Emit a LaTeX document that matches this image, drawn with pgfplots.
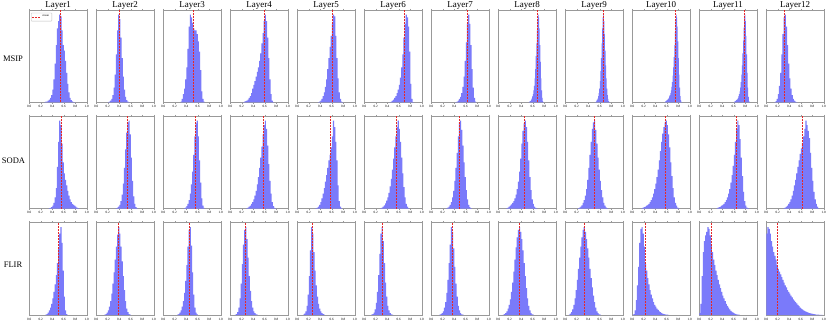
\documentclass[border=0pt]{standalone}
\usepackage{fontspec}
\setmainfont{Liberation Serif}
\usepackage{pgfplots}
\pgfplotsset{compat=1.18}
\definecolor{histblue}{RGB}{122,122,250}
\definecolor{meanred}{RGB}{230,40,40}
\pgfplotsset{
  every axis title shift=0pt,
  hp/.style={scale only axis, width=57.5pt, height=92.5pt, anchor=north west,
    xmin=0, xmax=1, ymin=0, ymax=1,
    xtick={0,0.2,0.4,0.6,0.8,1}, ytick=\empty,
    axis line style={black!40, line width=0.6pt},
    tick style={black!40, line width=0.4pt}, tick align=outside,
    major tick length=1.2pt,
    xticklabel style={font=\fontsize{3.3}{4}\selectfont, inner sep=1.5pt},
    /pgf/number format/fixed, /pgf/number format/fixed zerofill,
    /pgf/number format/precision=1, /pgf/number format/assume math mode=true,
    title style={font=\fontsize{9}{10}\selectfont, at={(0.5,1)},
                 anchor=base, yshift=2.6pt, inner sep=0pt},
  },
  hist/.style={const plot, fill=histblue, draw=none, forget plot},
  meanline/.style={draw=meanred, color=meanred, line width=0.9pt,
                   dash pattern=on 2pt off 1pt},
}
% #1 column, #2 top of row (pt), #3 title, #4 mean, #5 bins
\newcommand{\panel}[5]{%
  \begin{axis}[hp, at={({(29.3+67*#1)*1pt},{-(#2)*1pt})}, title={#3}]
    \addplot[hist] coordinates {#5} \closedcycle;
    \addplot[meanline] coordinates {(#4,0) (#4,1)};
  \end{axis}}

\begin{document}
\begin{tikzpicture}
\useasboundingbox (0,0) rectangle (830pt,-323pt);

% ---------------- MSIP ----------------
\begin{axis}[hp, at={(29.3pt,-10pt)}, title={Layer1},
  legend style={at={(0.03,0.97)}, anchor=north west,
    font=\fontsize{3}{3.5}\selectfont, draw=black!25, rounded corners=0.5pt,
    inner sep=0.6pt, legend cell align=left},
  legend image code/.code={\draw[#1] (0pt,0pt) -- (8pt,0pt);}]
  \addplot[hist] coordinates {(0.26,0.005)(0.28,0.01)(0.30,0.01)(0.32,0.02)(0.34,0.03)(0.36,0.05)(0.38,0.08)(0.40,0.14)(0.42,0.25)(0.44,0.42)(0.46,0.62)(0.48,0.80)(0.50,0.88)(0.52,0.95)(0.54,0.93)(0.56,0.78)(0.58,0.62)(0.60,0.56)(0.62,0.45)(0.64,0.32)(0.66,0.20)(0.68,0.11)(0.70,0.05)(0.72,0.025)(0.74,0.012)(0.76,0.005)(0.78,0.003)(0.80,0)} \closedcycle;
  \addplot[meanline] coordinates {(0.54,0) (0.54,1)};
  \addlegendentry{mean}
\end{axis}
\panel{1}{10}{Layer2}{0.40}{(0.20,0.005)(0.22,0.01)(0.24,0.02)(0.26,0.04)(0.28,0.08)(0.30,0.16)(0.32,0.30)(0.34,0.52)(0.36,0.78)(0.38,0.95)(0.40,0.90)(0.42,0.70)(0.44,0.48)(0.46,0.28)(0.48,0.14)(0.50,0.06)(0.52,0.025)(0.54,0.01)(0.56,0.004)(0.58,0)}
\panel{2}{10}{Layer3}{0.52}{(0.30,0.01)(0.32,0.04)(0.34,0.09)(0.36,0.15)(0.38,0.25)(0.40,0.38)(0.42,0.58)(0.44,0.82)(0.46,0.95)(0.48,0.92)(0.50,0.86)(0.52,0.80)(0.54,0.78)(0.56,0.78)(0.58,0.74)(0.60,0.66)(0.62,0.55)(0.64,0.35)(0.66,0.12)(0.68,0.04)(0.70,0.01)(0.72,0)}
\panel{3}{10}{Layer4}{0.59}{(0.22,0.005)(0.24,0.01)(0.26,0.015)(0.28,0.02)(0.30,0.03)(0.32,0.05)(0.34,0.07)(0.36,0.10)(0.38,0.15)(0.40,0.19)(0.42,0.23)(0.44,0.28)(0.46,0.33)(0.48,0.38)(0.50,0.45)(0.52,0.53)(0.54,0.64)(0.56,0.75)(0.58,0.88)(0.60,0.95)(0.62,0.88)(0.64,0.70)(0.66,0.48)(0.68,0.25)(0.70,0.09)(0.72,0.02)(0.74,0.005)(0.76,0)}
\panel{4}{10}{Layer5}{0.61}{(0.36,0.005)(0.38,0.01)(0.40,0.02)(0.42,0.04)(0.44,0.07)(0.46,0.11)(0.48,0.17)(0.50,0.25)(0.52,0.36)(0.54,0.48)(0.56,0.60)(0.58,0.72)(0.60,0.85)(0.62,0.95)(0.64,0.93)(0.66,0.72)(0.68,0.48)(0.70,0.26)(0.72,0.11)(0.74,0.04)(0.76,0.01)(0.78,0.003)(0.80,0)}
\panel{5}{10}{Layer6}{0.70}{(0.44,0.005)(0.46,0.01)(0.48,0.02)(0.50,0.03)(0.52,0.05)(0.54,0.07)(0.56,0.10)(0.58,0.14)(0.60,0.19)(0.62,0.27)(0.64,0.38)(0.66,0.52)(0.68,0.70)(0.70,0.85)(0.72,0.95)(0.74,0.92)(0.76,0.82)(0.78,0.55)(0.80,0.20)(0.82,0.04)(0.84,0.005)(0.86,0)}
\panel{6}{10}{Layer7}{0.63}{(0.42,0.005)(0.44,0.01)(0.46,0.02)(0.48,0.04)(0.50,0.06)(0.52,0.10)(0.54,0.17)(0.56,0.28)(0.58,0.45)(0.60,0.65)(0.62,0.85)(0.64,0.95)(0.66,0.85)(0.68,0.62)(0.70,0.36)(0.72,0.16)(0.74,0.05)(0.76,0.01)(0.78,0)}
\panel{7}{10}{Layer8}{0.68}{(0.53,0.005)(0.54,0.01)(0.55,0.015)(0.56,0.02)(0.57,0.03)(0.58,0.045)(0.59,0.065)(0.60,0.09)(0.61,0.13)(0.62,0.18)(0.63,0.26)(0.64,0.36)(0.65,0.50)(0.66,0.64)(0.67,0.78)(0.68,0.90)(0.69,0.95)(0.70,0.92)(0.71,0.80)(0.72,0.62)(0.73,0.44)(0.74,0.26)(0.75,0.13)(0.76,0.05)(0.77,0.015)(0.78,0.004)(0.79,0)}
\panel{8}{10}{Layer9}{0.66}{(0.52,0.005)(0.53,0.01)(0.54,0.02)(0.55,0.03)(0.56,0.045)(0.57,0.07)(0.58,0.10)(0.59,0.15)(0.60,0.23)(0.61,0.34)(0.62,0.48)(0.63,0.64)(0.64,0.80)(0.65,0.92)(0.66,0.95)(0.67,0.88)(0.68,0.74)(0.69,0.56)(0.70,0.40)(0.71,0.26)(0.72,0.15)(0.73,0.08)(0.74,0.04)(0.75,0.015)(0.76,0.005)(0.77,0.002)(0.78,0)}
\panel{9}{10}{Layer10}{0.75}{(0.56,0.005)(0.57,0.01)(0.58,0.015)(0.59,0.02)(0.60,0.025)(0.61,0.03)(0.62,0.04)(0.63,0.05)(0.64,0.065)(0.65,0.08)(0.66,0.10)(0.67,0.13)(0.68,0.17)(0.69,0.22)(0.70,0.29)(0.71,0.38)(0.72,0.49)(0.73,0.62)(0.74,0.76)(0.75,0.88)(0.76,0.95)(0.77,0.92)(0.78,0.82)(0.79,0.66)(0.80,0.48)(0.81,0.30)(0.82,0.16)(0.83,0.07)(0.84,0.025)(0.85,0.007)(0.86,0)}
\panel{10}{10}{Layer11}{0.78}{(0.60,0.005)(0.61,0.01)(0.62,0.015)(0.63,0.02)(0.64,0.025)(0.65,0.03)(0.66,0.04)(0.67,0.05)(0.68,0.07)(0.69,0.09)(0.70,0.12)(0.71,0.16)(0.72,0.22)(0.73,0.30)(0.74,0.40)(0.75,0.53)(0.76,0.67)(0.77,0.81)(0.78,0.92)(0.79,0.95)(0.80,0.88)(0.81,0.72)(0.82,0.52)(0.83,0.32)(0.84,0.16)(0.85,0.06)(0.86,0.015)(0.87,0.003)(0.88,0)}
\panel{11}{10}{Layer12}{0.32}{(0.14,0.005)(0.16,0.015)(0.18,0.04)(0.20,0.09)(0.22,0.18)(0.24,0.32)(0.26,0.52)(0.28,0.74)(0.30,0.92)(0.32,0.95)(0.34,0.82)(0.36,0.62)(0.38,0.42)(0.40,0.26)(0.42,0.15)(0.44,0.08)(0.46,0.04)(0.48,0.02)(0.50,0.01)(0.52,0.004)(0.54,0)}

% ---------------- SODA ----------------
\panel{0}{116}{}{0.56}{(0.34,0.003)(0.36,0.008)(0.38,0.015)(0.40,0.03)(0.42,0.06)(0.44,0.12)(0.46,0.22)(0.48,0.45)(0.50,0.72)(0.52,0.95)(0.54,0.90)(0.56,0.70)(0.58,0.50)(0.60,0.38)(0.62,0.31)(0.64,0.25)(0.66,0.19)(0.68,0.14)(0.70,0.10)(0.72,0.07)(0.74,0.05)(0.76,0.04)(0.78,0.03)(0.80,0.02)(0.82,0.01)(0.84,0.004)(0.86,0)}
\panel{1}{116}{}{0.54}{(0.34,0.005)(0.36,0.01)(0.38,0.02)(0.40,0.04)(0.42,0.08)(0.44,0.15)(0.46,0.27)(0.48,0.44)(0.50,0.64)(0.52,0.82)(0.54,0.93)(0.56,0.95)(0.58,0.80)(0.60,0.55)(0.62,0.30)(0.64,0.13)(0.66,0.05)(0.68,0.015)(0.70,0.005)(0.72,0)}
\panel{2}{116}{}{0.555}{(0.36,0.005)(0.38,0.01)(0.40,0.025)(0.42,0.05)(0.44,0.09)(0.46,0.16)(0.48,0.26)(0.50,0.40)(0.52,0.58)(0.54,0.78)(0.56,0.92)(0.58,0.95)(0.60,0.78)(0.62,0.52)(0.64,0.28)(0.66,0.11)(0.68,0.03)(0.70,0.008)(0.72,0)}
\panel{3}{116}{}{0.57}{(0.28,0.005)(0.30,0.01)(0.32,0.02)(0.34,0.03)(0.36,0.05)(0.38,0.07)(0.40,0.10)(0.42,0.14)(0.44,0.19)(0.46,0.26)(0.48,0.34)(0.50,0.44)(0.52,0.55)(0.54,0.67)(0.56,0.80)(0.58,0.90)(0.60,0.95)(0.62,0.86)(0.64,0.68)(0.66,0.48)(0.68,0.30)(0.70,0.16)(0.72,0.07)(0.74,0.025)(0.76,0.008)(0.78,0.002)(0.80,0)}
\panel{4}{116}{}{0.58}{(0.32,0.005)(0.34,0.01)(0.36,0.02)(0.38,0.04)(0.40,0.07)(0.42,0.11)(0.44,0.16)(0.46,0.22)(0.48,0.29)(0.50,0.36)(0.52,0.44)(0.54,0.52)(0.56,0.58)(0.58,0.66)(0.60,0.78)(0.62,0.95)(0.64,0.88)(0.66,0.72)(0.68,0.52)(0.70,0.25)(0.72,0.08)(0.74,0.02)(0.76,0.005)(0.78,0)}
\panel{5}{116}{}{0.555}{(0.28,0.005)(0.30,0.01)(0.32,0.02)(0.34,0.035)(0.36,0.055)(0.38,0.085)(0.40,0.12)(0.42,0.17)(0.44,0.24)(0.46,0.32)(0.48,0.42)(0.50,0.54)(0.52,0.66)(0.54,0.78)(0.56,0.88)(0.58,0.95)(0.60,0.86)(0.62,0.72)(0.64,0.55)(0.66,0.38)(0.68,0.23)(0.70,0.12)(0.72,0.05)(0.74,0.02)(0.76,0.005)(0.78,0)}
\panel{6}{116}{}{0.49}{(0.26,0.005)(0.28,0.01)(0.30,0.02)(0.32,0.04)(0.34,0.07)(0.36,0.12)(0.38,0.19)(0.40,0.30)(0.42,0.44)(0.44,0.60)(0.46,0.78)(0.48,0.93)(0.50,0.95)(0.52,0.85)(0.54,0.68)(0.56,0.50)(0.58,0.34)(0.60,0.20)(0.62,0.10)(0.64,0.04)(0.66,0.015)(0.68,0.005)(0.70,0)}
\panel{7}{116}{}{0.45}{(0.14,0.005)(0.16,0.01)(0.18,0.02)(0.20,0.03)(0.22,0.045)(0.24,0.06)(0.26,0.08)(0.28,0.11)(0.30,0.15)(0.32,0.21)(0.34,0.29)(0.36,0.40)(0.38,0.54)(0.40,0.70)(0.42,0.84)(0.44,0.92)(0.46,0.95)(0.48,0.88)(0.50,0.72)(0.52,0.52)(0.54,0.34)(0.56,0.20)(0.58,0.10)(0.60,0.05)(0.62,0.02)(0.64,0.008)(0.66,0.003)(0.68,0)}
\panel{8}{116}{}{0.50}{(0.22,0.005)(0.24,0.01)(0.26,0.02)(0.28,0.035)(0.30,0.06)(0.32,0.09)(0.34,0.14)(0.36,0.21)(0.38,0.31)(0.40,0.44)(0.42,0.58)(0.44,0.72)(0.46,0.86)(0.48,0.93)(0.50,0.95)(0.52,0.85)(0.54,0.70)(0.56,0.55)(0.58,0.42)(0.60,0.30)(0.62,0.20)(0.64,0.12)(0.66,0.06)(0.68,0.03)(0.70,0.012)(0.72,0.005)(0.74,0)}
\panel{9}{116}{}{0.57}{(0.16,0.005)(0.18,0.01)(0.20,0.015)(0.22,0.02)(0.24,0.03)(0.26,0.04)(0.28,0.05)(0.30,0.07)(0.32,0.09)(0.34,0.12)(0.36,0.16)(0.38,0.21)(0.40,0.27)(0.42,0.34)(0.44,0.42)(0.46,0.52)(0.48,0.62)(0.50,0.72)(0.52,0.81)(0.54,0.88)(0.56,0.93)(0.58,0.95)(0.60,0.90)(0.62,0.80)(0.64,0.66)(0.66,0.50)(0.68,0.35)(0.70,0.22)(0.72,0.12)(0.74,0.06)(0.76,0.03)(0.78,0.01)(0.80,0.004)(0.82,0)}
\panel{10}{116}{}{0.64}{(0.30,0.005)(0.32,0.01)(0.34,0.015)(0.36,0.02)(0.38,0.03)(0.40,0.04)(0.42,0.05)(0.44,0.07)(0.46,0.09)(0.48,0.12)(0.50,0.16)(0.52,0.21)(0.54,0.28)(0.56,0.36)(0.58,0.46)(0.60,0.58)(0.62,0.72)(0.64,0.86)(0.66,0.95)(0.68,0.90)(0.70,0.75)(0.72,0.55)(0.74,0.35)(0.76,0.18)(0.78,0.08)(0.80,0.03)(0.82,0.01)(0.84,0.003)(0.86,0)}
\panel{11}{116}{}{0.63}{(0.30,0.005)(0.32,0.01)(0.34,0.02)(0.36,0.03)(0.38,0.05)(0.40,0.07)(0.42,0.10)(0.44,0.14)(0.46,0.19)(0.48,0.25)(0.50,0.31)(0.52,0.38)(0.54,0.45)(0.56,0.52)(0.58,0.59)(0.60,0.65)(0.62,0.71)(0.64,0.78)(0.66,0.86)(0.68,0.95)(0.70,0.90)(0.72,0.84)(0.74,0.76)(0.76,0.60)(0.78,0.44)(0.80,0.30)(0.82,0.18)(0.84,0.10)(0.86,0.05)(0.88,0.02)(0.90,0.005)(0.92,0)}

% ---------------- FLIR ----------------
\panel{0}{222.5}{}{0.51}{(0.28,0.005)(0.30,0.01)(0.32,0.025)(0.34,0.05)(0.36,0.08)(0.38,0.12)(0.40,0.18)(0.42,0.25)(0.44,0.33)(0.46,0.43)(0.48,0.56)(0.50,0.72)(0.52,0.88)(0.54,0.95)(0.56,0.78)(0.58,0.48)(0.60,0.20)(0.62,0.05)(0.64,0.01)(0.66,0)}
\panel{1}{222.5}{}{0.38}{(0.14,0.005)(0.16,0.01)(0.18,0.025)(0.20,0.05)(0.22,0.09)(0.24,0.15)(0.26,0.23)(0.28,0.34)(0.30,0.46)(0.32,0.60)(0.34,0.74)(0.36,0.87)(0.38,0.95)(0.40,0.88)(0.42,0.74)(0.44,0.58)(0.46,0.42)(0.48,0.27)(0.50,0.15)(0.52,0.07)(0.54,0.03)(0.56,0.01)(0.58,0.004)(0.60,0)}
\panel{2}{222.5}{}{0.45}{(0.24,0.005)(0.26,0.01)(0.28,0.025)(0.30,0.05)(0.32,0.09)(0.34,0.15)(0.36,0.24)(0.38,0.37)(0.40,0.54)(0.42,0.74)(0.44,0.92)(0.46,0.95)(0.48,0.75)(0.50,0.46)(0.52,0.22)(0.54,0.08)(0.56,0.025)(0.58,0.008)(0.60,0)}
\panel{3}{222.5}{}{0.26}{(0.08,0.005)(0.10,0.01)(0.12,0.03)(0.14,0.08)(0.16,0.18)(0.18,0.34)(0.20,0.55)(0.22,0.76)(0.24,0.92)(0.26,0.95)(0.28,0.82)(0.30,0.62)(0.32,0.42)(0.34,0.26)(0.36,0.15)(0.38,0.08)(0.40,0.04)(0.42,0.02)(0.44,0.008)(0.46,0.003)(0.48,0)}
\panel{4}{222.5}{}{0.26}{(0.10,0.005)(0.12,0.015)(0.14,0.04)(0.16,0.10)(0.18,0.22)(0.20,0.42)(0.22,0.70)(0.24,0.95)(0.26,0.88)(0.28,0.68)(0.30,0.48)(0.32,0.32)(0.34,0.20)(0.36,0.12)(0.38,0.07)(0.40,0.04)(0.42,0.02)(0.44,0.01)(0.46,0.004)(0.48,0)}
\panel{5}{222.5}{}{0.31}{(0.12,0.005)(0.14,0.01)(0.16,0.025)(0.18,0.06)(0.20,0.13)(0.22,0.25)(0.24,0.43)(0.26,0.66)(0.28,0.88)(0.30,0.95)(0.32,0.80)(0.34,0.56)(0.36,0.35)(0.38,0.20)(0.40,0.10)(0.42,0.05)(0.44,0.02)(0.46,0.008)(0.48,0.003)(0.50,0)}
\panel{6}{222.5}{}{0.36}{(0.14,0.005)(0.16,0.01)(0.18,0.02)(0.20,0.04)(0.22,0.08)(0.24,0.14)(0.26,0.24)(0.28,0.38)(0.30,0.56)(0.32,0.76)(0.34,0.95)(0.36,0.90)(0.38,0.72)(0.40,0.52)(0.42,0.34)(0.44,0.20)(0.46,0.10)(0.48,0.05)(0.50,0.02)(0.52,0.008)(0.54,0.003)(0.56,0)}
\panel{7}{222.5}{}{0.375}{(0.08,0.005)(0.10,0.01)(0.12,0.02)(0.14,0.04)(0.16,0.07)(0.18,0.11)(0.20,0.17)(0.22,0.25)(0.24,0.35)(0.26,0.47)(0.28,0.60)(0.30,0.73)(0.32,0.84)(0.34,0.92)(0.36,0.95)(0.38,0.90)(0.40,0.82)(0.42,0.70)(0.44,0.56)(0.46,0.42)(0.48,0.29)(0.50,0.18)(0.52,0.10)(0.54,0.05)(0.56,0.02)(0.58,0.008)(0.60,0.003)(0.62,0)}
\panel{8}{222.5}{}{0.33}{(0.06,0.005)(0.08,0.015)(0.10,0.03)(0.12,0.06)(0.14,0.11)(0.16,0.18)(0.18,0.27)(0.20,0.38)(0.22,0.50)(0.24,0.62)(0.26,0.74)(0.28,0.84)(0.30,0.92)(0.32,0.95)(0.34,0.90)(0.36,0.82)(0.38,0.72)(0.40,0.62)(0.42,0.50)(0.44,0.40)(0.46,0.30)(0.48,0.21)(0.50,0.14)(0.52,0.08)(0.54,0.04)(0.56,0.02)(0.58,0.008)(0.60,0.003)(0.62,0)}
\panel{9}{222.5}{}{0.22}{(0.02,0.01)(0.04,0.05)(0.06,0.16)(0.08,0.32)(0.10,0.52)(0.12,0.78)(0.14,0.93)(0.16,0.95)(0.18,0.88)(0.20,0.74)(0.22,0.55)(0.24,0.48)(0.26,0.40)(0.28,0.33)(0.30,0.27)(0.32,0.22)(0.34,0.18)(0.36,0.14)(0.38,0.11)(0.40,0.09)(0.42,0.07)(0.44,0.055)(0.46,0.04)(0.48,0.03)(0.50,0.02)(0.52,0.015)(0.54,0.01)(0.56,0.007)(0.58,0.005)(0.60,0.003)(0.62,0.002)(0.64,0)}
\panel{10}{222.5}{}{0.205}{(0.00,0.02)(0.02,0.12)(0.04,0.42)(0.06,0.68)(0.08,0.80)(0.10,0.86)(0.12,0.90)(0.14,0.95)(0.16,0.93)(0.18,0.86)(0.20,0.77)(0.22,0.68)(0.24,0.60)(0.26,0.54)(0.28,0.48)(0.30,0.43)(0.32,0.38)(0.34,0.33)(0.36,0.29)(0.38,0.25)(0.40,0.21)(0.42,0.18)(0.44,0.15)(0.46,0.12)(0.48,0.10)(0.50,0.08)(0.52,0.06)(0.54,0.045)(0.56,0.035)(0.58,0.025)(0.60,0.018)(0.62,0.012)(0.64,0.008)(0.66,0.005)(0.68,0.003)(0.70,0)}
\panel{11}{222.5}{}{0.19}{(0.00,0.88)(0.02,0.95)(0.04,0.93)(0.06,0.88)(0.08,0.80)(0.10,0.74)(0.12,0.68)(0.14,0.64)(0.16,0.60)(0.18,0.54)(0.20,0.50)(0.22,0.47)(0.24,0.44)(0.26,0.41)(0.28,0.38)(0.30,0.35)(0.32,0.32)(0.34,0.30)(0.36,0.27)(0.38,0.25)(0.40,0.23)(0.42,0.21)(0.44,0.19)(0.46,0.17)(0.48,0.155)(0.50,0.14)(0.52,0.125)(0.54,0.11)(0.56,0.095)(0.58,0.08)(0.60,0.07)(0.62,0.06)(0.64,0.05)(0.66,0.043)(0.68,0.036)(0.70,0.03)(0.72,0.025)(0.74,0.02)(0.76,0.017)(0.78,0.014)(0.80,0.011)(0.82,0.009)(0.84,0.007)(0.86,0.005)(0.88,0.004)(0.90,0.003)(0.92,0.002)(0.94,0.002)(0.96,0.001)(0.98,0)}

% row labels
\node[font=\fontsize{8.5}{10}\selectfont] at (13pt,-59pt) {MSIP};
\node[font=\fontsize{8.5}{10}\selectfont] at (13.5pt,-161pt) {SODA};
\node[font=\fontsize{8.5}{10}\selectfont] at (13pt,-265pt) {FLIR};
\end{tikzpicture}
\end{document}
